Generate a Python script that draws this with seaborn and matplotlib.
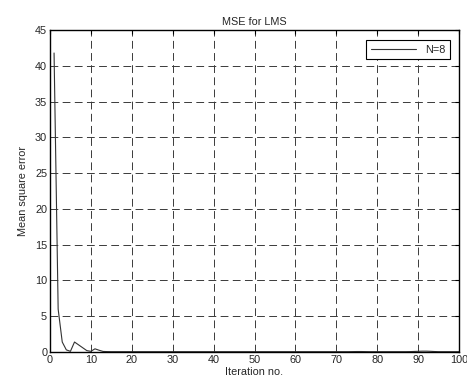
import matplotlib
matplotlib.use("Agg")
import matplotlib.pyplot as plt
import seaborn as sns
import pandas as pd

iterations = list(range(1, 101))
mse_n8 = [
    41.8, 6.0, 1.4, 0.3, 0.1, 1.4, 1.0, 0.6, 0.2, 0.1,
    0.45, 0.25, 0.08, 0.06, 0.05, 0.05, 0.05, 0.05, 0.05, 0.05,
    0.05, 0.05, 0.05, 0.05, 0.05, 0.05, 0.05, 0.05, 0.05, 0.05,
    0.05, 0.05, 0.05, 0.05, 0.05, 0.05, 0.05, 0.05, 0.05, 0.05,
    0.05, 0.05, 0.05, 0.05, 0.05, 0.05, 0.05, 0.05, 0.05, 0.05,
    0.05, 0.05, 0.05, 0.05, 0.05, 0.05, 0.05, 0.05, 0.05, 0.05,
    0.05, 0.05, 0.05, 0.05, 0.05, 0.05, 0.05, 0.05, 0.05, 0.05,
    0.05, 0.05, 0.05, 0.06, 0.07, 0.07, 0.06, 0.05, 0.05, 0.05,
    0.05, 0.05, 0.05, 0.05, 0.05, 0.05, 0.05, 0.06, 0.08, 0.10,
    0.12, 0.12, 0.10, 0.07, 0.05, 0.05, 0.05, 0.05, 0.05, 0.05,
]
series_label = "N=8"
title = "MSE for LMS"
xlabel = "Iteration no."
ylabel = "Mean square error"
xticks = [0, 10, 20, 30, 40, 50, 60, 70, 80, 90, 100]
yticks = [0, 5, 10, 15, 20, 25, 30, 35, 40, 45]

df = pd.DataFrame({"iter": iterations, "mse": mse_n8})

sns.set_style("white")
plt.rcParams["font.family"] = ["Liberation Sans", "DejaVu Sans"]

fig = plt.figure(figsize=(4.67, 3.86), dpi=100)
ax = fig.add_axes([0.107, 0.088, 0.876, 0.834])
sns.lineplot(data=df, x="iter", y="mse", ax=ax, color="#333333",
             linewidth=0.8, label=series_label)

ax.set_xlim(0, 100)
ax.set_ylim(0, 45)
ax.set_xticks(xticks)
ax.set_yticks(yticks)
ax.tick_params(direction="in", length=3, labelsize=7.8, color="black",
               top=True, right=True, pad=2)
ax.grid(True, linestyle=(0, (8, 4.5)), color="#3a3a3a", linewidth=0.7)
for s in ax.spines.values():
    s.set_color("black")
    s.set_linewidth(1.0)
ax.set_title(title, fontsize=7.8, pad=4)
ax.set_xlabel(xlabel, fontsize=7.8, labelpad=1.5)
ax.set_ylabel(ylabel, fontsize=7.8, labelpad=5)
leg = ax.legend(loc="upper right", fontsize=7.8, frameon=True, fancybox=False,
                handlelength=4.2, borderpad=0.4, handletextpad=0.8,
                bbox_to_anchor=(0.99, 0.985))
leg.get_frame().set_edgecolor("black")
leg.get_frame().set_linewidth(0.8)
leg.get_frame().set_alpha(1)

fig.savefig("out.png", dpi=100)
